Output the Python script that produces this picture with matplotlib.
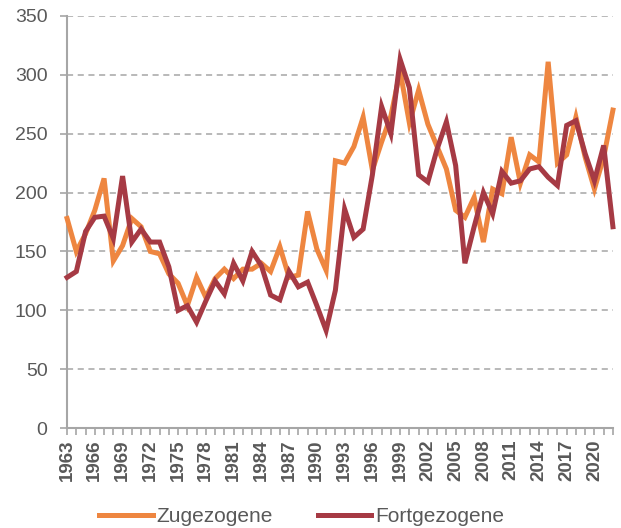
import matplotlib
matplotlib.use("Agg")
import matplotlib.pyplot as plt

# Zu- und Fortgezogene je Jahr
years = list(range(1963, 2023))
zugezogene = [178, 150, 165, 185, 212, 142, 155, 178, 171, 150,
              148, 131, 123, 104, 128, 111, 127, 135, 127, 135,
              135, 140, 133, 154, 128, 130, 184, 152, 134, 227,
              225, 239, 264, 219, 243, 265, 303, 259, 287, 258,
              239, 220, 185, 179, 196, 158, 203, 199, 247, 208,
              232, 226, 311, 225, 232, 264, 230, 203, 230, 270]
fortgezogene = [128, 133, 167, 179, 180, 161, 214, 158, 169, 158,
                158, 137, 100, 104, 90, 108, 125, 114, 140, 125,
                150, 138, 113, 109, 133, 120, 124, 104, 83, 117,
                186, 162, 169, 215, 273, 250, 313, 289, 215, 209,
                237, 260, 223, 140, 171, 200, 182, 218, 208, 210,
                220, 222, 213, 206, 257, 261, 233, 210, 240, 171]
y_ticks = [0, 50, 100, 150, 200, 250, 300, 350]

ORANGE = "#EE8640"
RED = "#A63A44"
GREY = "#A6A6A6"
TEXT = "#595959"

plt.rcParams["font.family"] = ["Liberation Sans", "DejaVu Sans"]

fig = plt.figure(figsize=(6.21, 5.28), dpi=100)
ax = fig.add_axes([0.108, 0.189, 0.879, 0.781])

ax.plot(years, zugezogene, color=ORANGE, lw=3.6, label="Zugezogene",
        solid_joinstyle="miter", clip_on=False, zorder=3)
ax.plot(years, fortgezogene, color=RED, lw=3.6, label="Fortgezogene",
        solid_joinstyle="miter", clip_on=False, zorder=4)

ax.set_xlim(years[0], years[-1])
ax.set_ylim(0, 350)
ax.set_yticks(y_ticks)
ax.set_xticks(years)
ax.set_xticklabels([str(y) if (y - years[0]) % 3 == 0 else "" for y in years],
                   rotation=90, fontsize=13.5, fontweight="bold", color=TEXT)
ax.tick_params(axis="y", labelsize=14, labelcolor=TEXT, color=GREY,
               length=5, width=1.2, pad=9)
ax.tick_params(axis="x", color=GREY, length=5, width=1.2, pad=3)

ax.grid(axis="y", color=GREY, lw=1.1, linestyle=(0, (4, 3)))
ax.set_axisbelow(True)
for side in ("top", "right"):
    ax.spines[side].set_visible(False)
for side in ("left", "bottom"):
    ax.spines[side].set_color(GREY)
    ax.spines[side].set_linewidth(1.5)

fig.legend(loc="center", bbox_to_anchor=(0.486, 0.021), ncol=2, frameon=False,
           fontsize=15, handlelength=2.55, handletextpad=0.2, columnspacing=2.15,
           labelcolor=TEXT)

fig.savefig("out.png", dpi=100)
